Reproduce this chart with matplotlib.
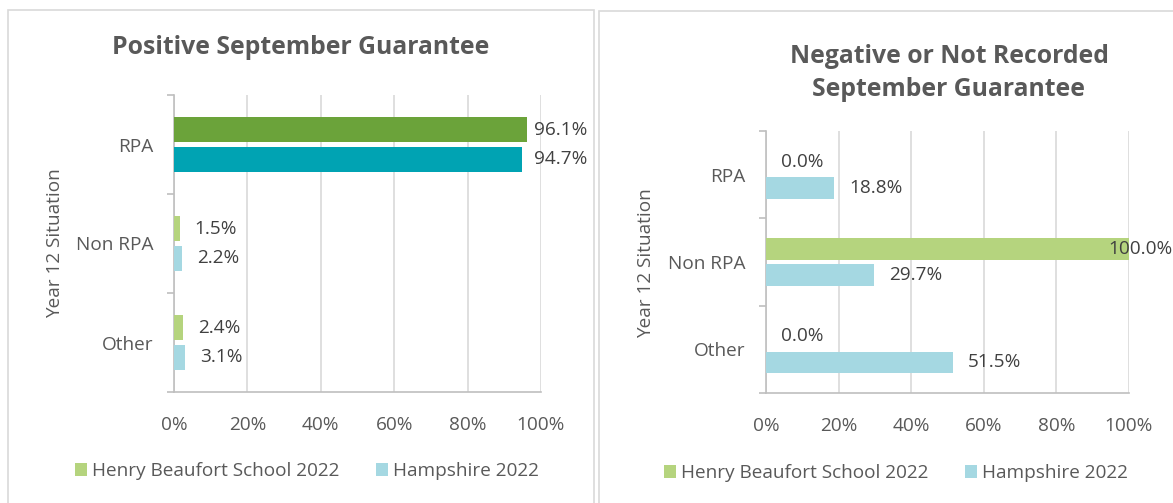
import matplotlib
matplotlib.use("Agg")
import matplotlib.pyplot as plt
from matplotlib.patches import Patch, Rectangle
import numpy as np

plt.rcParams['font.family'] = ['Open Sans', 'DejaVu Sans']

# ---------------- data ----------------
categories = ["RPA", "Non RPA", "Other"]
series_names = ["Henry Beaufort School 2022", "Hampshire 2022"]
pos_school = [96.1, 1.5, 2.4]
pos_hants = [94.7, 2.2, 3.1]
neg_school = [0.0, 100.0, 0.0]
neg_hants = [18.8, 29.7, 51.5]
x_ticks = [0, 20, 40, 60, 80, 100]
x_tick_labels = ["0%", "20%", "40%", "60%", "80%", "100%"]
titles = ["Positive September Guarantee",
          "Negative or Not Recorded\nSeptember Guarantee"]
ylabel = "Year 12 Situation"

# ---------------- style ----------------
GREEN_DARK = "#6BA33A"
TEAL_DARK = "#00A3B3"
GREEN_LIGHT = "#B5D47E"
BLUE_LIGHT = "#A5D8E2"
TXT = "#404040"
TICK_TXT = "#595959"
GRID = "#D9D9D9"
AXLINE = "#BFBFBF"
FS = 13.7

W, H = 1173, 503
fig = plt.figure(figsize=(W / 100, H / 100), dpi=100)


def box(x0, y0, x1, y1):
    return [x0 / W, 1 - y1 / H, (x1 - x0) / W, (y1 - y0) / H]


# panel borders
for (x0, y0, x1, y1) in [(8, 10, 594, 520), (599, 11, 1190, 520)]:
    fig.add_artist(Rectangle((x0 / W, 1 - y1 / H), (x1 - x0) / W, (y1 - y0) / H,
                             transform=fig.transFigure, fill=False,
                             edgecolor="#D9D9D9", linewidth=1.2))

panels = [
    dict(rect=(174, 95, 541, 392), school=pos_school, hants=pos_hants,
         school_colors=[GREEN_DARK, GREEN_LIGHT, GREEN_LIGHT],
         hants_colors=[TEAL_DARK, BLUE_LIGHT, BLUE_LIGHT],
         title=titles[0], title_xy=(301, 48), ylab_xy=(55, 243), limit=587,
         legend_xy=(75, 471)),
    dict(rect=(766, 131, 1129, 393), school=neg_school, hants=neg_hants,
         school_colors=[GREEN_LIGHT] * 3,
         hants_colors=[BLUE_LIGHT] * 3,
         title=titles[1], title_xy=(949, 73), ylab_xy=(646, 263), limit=1173,
         legend_xy=(664, 473)),
]

all_labels = []
for p in panels:
    ax = fig.add_axes(box(*p["rect"]))
    y = np.arange(len(categories))
    bh = 0.25
    b1 = ax.barh(y - 0.15, p["school"], height=bh, color=p["school_colors"], zorder=3)
    b2 = ax.barh(y + 0.15, p["hants"], height=bh, color=p["hants_colors"], zorder=3)
    ax.set_xlim(0, 100)
    ax.set_ylim(2.5, -0.5)
    ax.set_xticks(x_ticks)
    ax.set_xticklabels(x_tick_labels)
    ax.set_yticks(y)
    ax.set_yticklabels(categories)
    ax.set_yticks([-0.5, 0.5, 1.5, 2.5], minor=True)
    ax.tick_params(axis="y", which="major", length=0, pad=15,
                   labelsize=FS, labelcolor=TICK_TXT)
    ax.tick_params(axis="y", which="minor", length=5, color=AXLINE, width=1.2)
    ax.tick_params(axis="x", length=0, pad=17, labelsize=FS, labelcolor=TICK_TXT)
    ax.grid(axis="x", color=GRID, linewidth=1.2, zorder=0)
    for s in ["top", "right"]:
        ax.spines[s].set_visible(False)
    for s in ["left", "bottom"]:
        ax.spines[s].set_color(AXLINE)
        ax.spines[s].set_linewidth(1.2)
    ax.set_axisbelow(True)

    for bars, vals in [(b1, p["school"]), (b2, p["hants"])]:
        for rect, v in zip(bars, vals):
            t = ax.annotate(f"{v:.1f}%", xy=(v, rect.get_y() + rect.get_height() / 2),
                            xytext=(10.8, 0), textcoords="offset points",
                            ha="left", va="center", fontsize=FS, color=TXT,
                            annotation_clip=False, zorder=5)
            all_labels.append((t, p["limit"]))

    fig.text(p["title_xy"][0] / W, 1 - p["title_xy"][1] / H, p["title"],
             ha="center", va="center", fontsize=17.8, fontweight="bold",
             color=TICK_TXT, linespacing=1.45)
    fig.text(p["ylab_xy"][0] / W, 1 - p["ylab_xy"][1] / H, ylabel,
             ha="center", va="center", rotation=90, fontsize=FS, color=TICK_TXT)

    handles = [Patch(facecolor=GREEN_LIGHT), Patch(facecolor=BLUE_LIGHT)]
    fig.legend(handles, series_names, loc="center left",
               bbox_to_anchor=(p["legend_xy"][0] / W, 1 - p["legend_xy"][1] / H),
               ncol=2, frameon=False, fontsize=FS, labelcolor=TICK_TXT,
               handlelength=0.65, handleheight=0.65, handletextpad=0.25,
               columnspacing=1.9, borderpad=0, borderaxespad=0)

# keep data labels within each chart area
fig.canvas.draw()
renderer = fig.canvas.get_renderer()
for t, limit in all_labels:
    bb = t.get_window_extent(renderer)
    if bb.x1 > limit:
        dx = (bb.x1 - limit) * 72 / fig.dpi
        t.xyann = (t.xyann[0] - dx, t.xyann[1])

fig.savefig("out.png", dpi=100, facecolor="white")
